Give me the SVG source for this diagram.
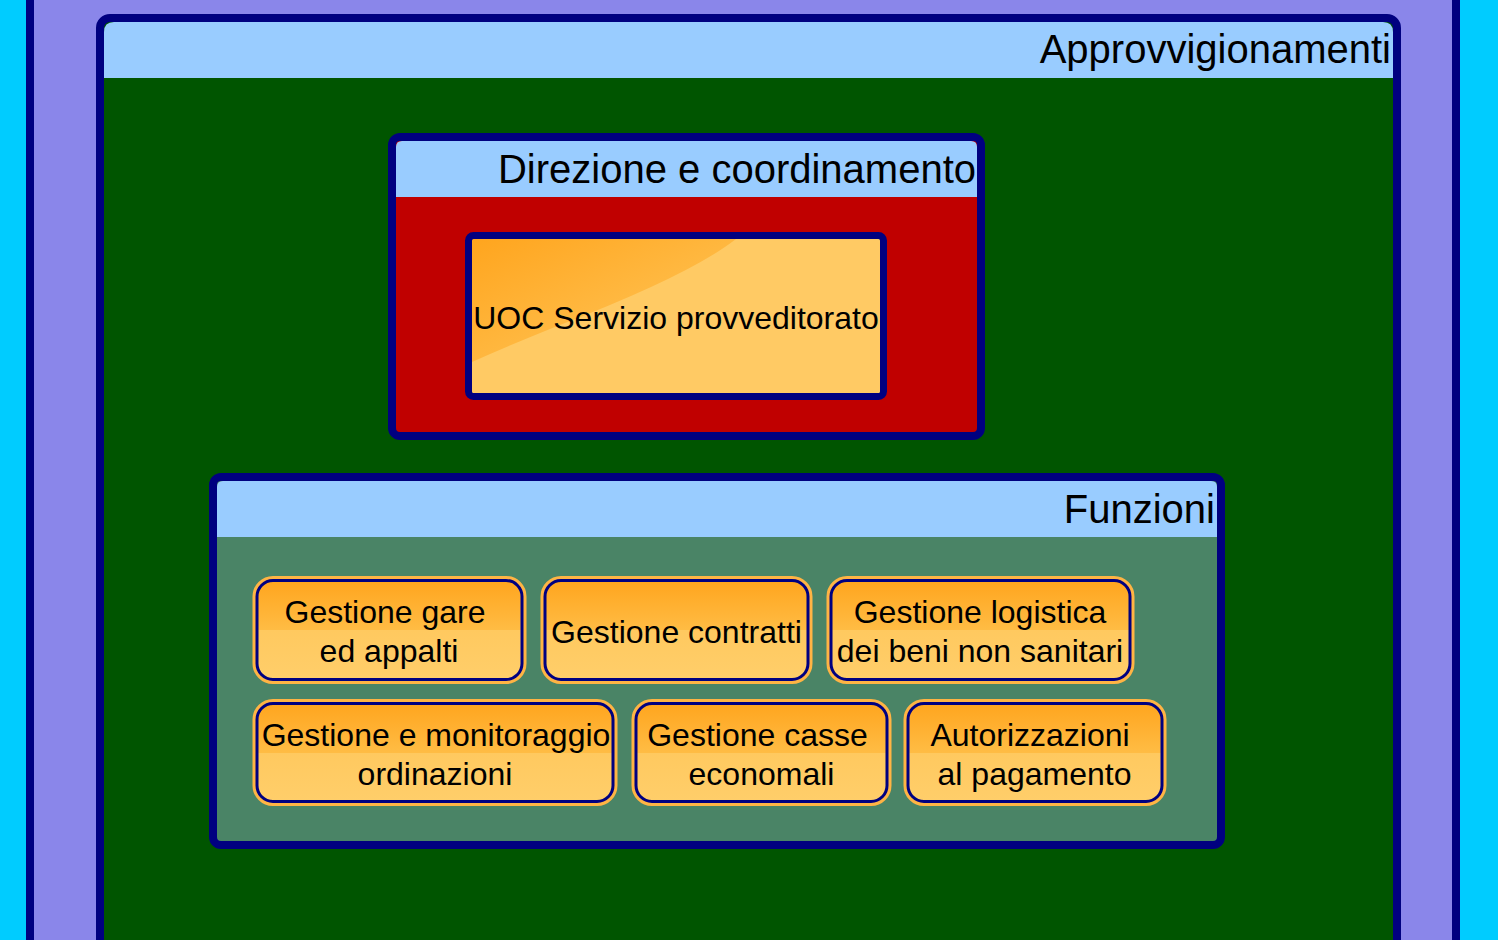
<svg xmlns="http://www.w3.org/2000/svg" width="1498" height="940" viewBox="0 0 1498 940">
<defs>
<style>
.hdr{fill:#99CCFF}
.frame{fill:none;stroke:#000080;stroke-width:8}
.title{font-family:"Liberation Sans",Arial,sans-serif;font-size:40px;fill:#000;text-anchor:end}
.lbl{font-family:"Liberation Sans",Arial,sans-serif;font-size:32px;fill:#000;text-anchor:middle}
.halo{fill:none;stroke:#FFB444;stroke-width:9}
.nbody{fill:url(#nodeGrad)}
.nedge{fill:none;stroke:#000080;stroke-width:3}
.nedge2{fill:none;stroke:#E8901A;stroke-width:1}
</style>
<linearGradient id="nodeGrad" x1="0" y1="0" x2="0" y2="1">
<stop offset="0" stop-color="#FFA51E"/>
<stop offset="0.5" stop-color="#FFBC44"/>
<stop offset="0.5" stop-color="#FFC95F"/>
<stop offset="1" stop-color="#FFCE6A"/>
</linearGradient>
<linearGradient id="glossGrad" x1="0" y1="0" x2="1" y2="1">
<stop offset="0" stop-color="#FFA51E"/>
<stop offset="1" stop-color="#FFC95F"/>
</linearGradient>
</defs>
<rect x="0" y="0" width="1498" height="940" fill="#00CCFF"/>
<g id="outer">
<rect x="30" y="-20" width="1426" height="1000" fill="#8A86EA" stroke="#000080" stroke-width="8"/>
</g>
<g id="approvvigionamenti">
<rect x="100" y="18" width="1297" height="960" rx="10" fill="#005500"/>
<path class="hdr" d="M104 32 Q104 22 114 22 H1383 Q1393 22 1393 32 V78 H104 Z"/>
<rect class="frame" x="100" y="18" width="1297" height="960" rx="10"/>
<text class="title" x="1391" y="63">Approvvigionamenti</text>
</g>
<g id="direzione">
<rect x="392" y="137" width="589" height="299" rx="8" fill="#C00000"/>
<path class="hdr" d="M396 147 Q396 141 402 141 H971 Q977 141 977 147 V197 H396 Z"/>
<rect class="frame" x="392" y="137" width="589" height="299" rx="8"/>
<text class="title" x="976" y="183">Direzione e coordinamento</text>
</g>
<g id="uoc">
<rect x="468.5" y="235.5" width="415" height="161" rx="5" fill="#FFCA64"/>
<path d="M472 239 H736 Q690 275 560 325 Q510 345 472 362 Z" fill="url(#glossGrad)"/>
<rect x="468.5" y="235.5" width="415" height="161" rx="5" fill="none" stroke="#000080" stroke-width="7"/>
<text class="lbl" x="676" y="329">UOC Servizio provveditorato</text>
</g>
<g id="funzioni">
<rect x="213" y="477" width="1008" height="368" rx="8" fill="#4A8466"/>
<path class="hdr" d="M217 487 Q217 481 223 481 H1211 Q1217 481 1217 487 V537 H217 Z"/>
<rect class="frame" x="213" y="477" width="1008" height="368" rx="8"/>
<text class="title" x="1215" y="523">Funzioni</text>
</g>
<g id="gare">
<rect class="halo" x="257" y="580.5" width="265" height="99" rx="16"/>
<rect class="nbody" x="257" y="580.5" width="265" height="99" rx="16"/>
<rect class="nedge" x="257" y="580.5" width="265" height="99" rx="16"/>
<text class="lbl" x="385" y="623">Gestione gare</text>
<text class="lbl" x="389" y="662">ed appalti</text>
</g>
<g id="contratti">
<rect class="halo" x="545" y="580.5" width="263" height="99" rx="16"/>
<rect class="nbody" x="545" y="580.5" width="263" height="99" rx="16"/>
<rect class="nedge" x="545" y="580.5" width="263" height="99" rx="16"/>
<text class="lbl" x="676.5" y="643">Gestione contratti</text>
</g>
<g id="logistica">
<rect class="halo" x="831" y="580.5" width="299" height="99" rx="16"/>
<rect class="nbody" x="831" y="580.5" width="299" height="99" rx="16"/>
<rect class="nedge" x="831" y="580.5" width="299" height="99" rx="16"/>
<text class="lbl" x="980" y="623">Gestione logistica</text>
<text class="lbl" x="980" y="662">dei beni non sanitari</text>
</g>
<g id="monitoraggio">
<rect class="halo" x="257" y="703.5" width="356" height="98" rx="16"/>
<rect class="nbody" x="257" y="703.5" width="356" height="98" rx="16"/>
<rect class="nedge" x="257" y="703.5" width="356" height="98" rx="16"/>
<text class="lbl" x="436" y="746">Gestione e monitoraggio</text>
<text class="lbl" x="435" y="785">ordinazioni</text>
</g>
<g id="casse">
<rect class="halo" x="636" y="703.5" width="251" height="98" rx="16"/>
<rect class="nbody" x="636" y="703.5" width="251" height="98" rx="16"/>
<rect class="nedge" x="636" y="703.5" width="251" height="98" rx="16"/>
<text class="lbl" x="757.5" y="746">Gestione casse</text>
<text class="lbl" x="761.5" y="785">economali</text>
</g>
<g id="autorizzazioni">
<rect class="halo" x="908" y="703.5" width="254" height="98" rx="16"/>
<rect class="nbody" x="908" y="703.5" width="254" height="98" rx="16"/>
<rect class="nedge" x="908" y="703.5" width="254" height="98" rx="16"/>
<text class="lbl" x="1030" y="746">Autorizzazioni</text>
<text class="lbl" x="1034.5" y="785">al pagamento</text>
</g>
<g id="connectors"/>
</svg>
